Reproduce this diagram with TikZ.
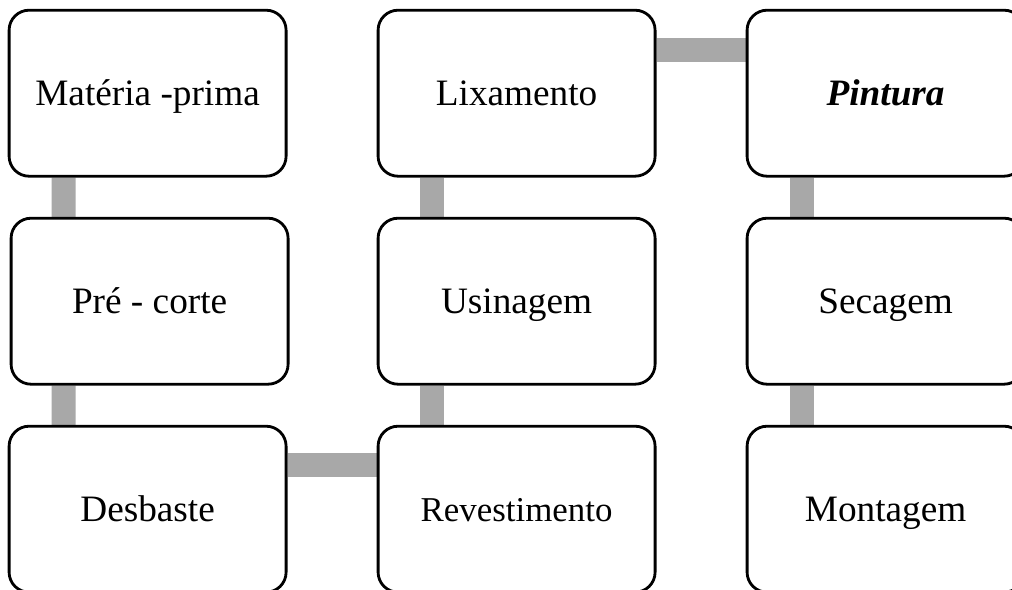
\documentclass[tikz,border=0pt]{standalone}
\usepackage{fontspec}
\setmainfont{Liberation Serif}
\usepackage{tikz}
\usetikzlibrary{shapes,arrows,calc,backgrounds}
\definecolor{linkgray}{RGB}{168,168,168}
\tikzstyle{box} = [draw, line width=2pt, rectangle, rounded corners=0.5cm, fill=white, minimum width=6.925cm, minimum height=4.15cm, text height=0.6cm, text depth=0cm, text centered, font=\fontsize{26.5}{31}\selectfont]
\tikzstyle{link} = [draw=linkgray, line width=0.6cm]

\begin{document}
\begin{tikzpicture}[node distance = 5.2cm, auto]
        \useasboundingbox (0,0) rectangle (25.3,-14.75);
        \clip (0,0) rectangle (25.3,-14.75);
        \node[box] (matprima) at (3.69,-2.33) {Matéria -prima};
        \node[box, below of=matprima, xshift=0.05cm] (precorte) {Pré - corte};
        \node[box, below of=precorte, xshift=-0.05cm] (desbaste) {Desbaste};
        \node[box, right of=desbaste, node distance = 9.225cm, font=\fontsize{24.8}{29}\selectfont] (revest) {Revestimento};
        \node[box, above of=revest] (usinagem) {Usinagem};
        \node[box, above of=usinagem] (lixamento) {Lixamento};
        \node[box, right of=lixamento, node distance = 9.225cm] (pintura) {\textbf{\textit{Pintura}}};
        \node[box, below of=pintura] (secagem) {Secagem};
        \node[box, below of=secagem] (montagem) {Montagem};
        \begin{pgfonlayer}{background}
        \path[link] ([xshift=1.4cm]matprima.south west) -- ([xshift=1.35cm]precorte.north west);
        \path[link] ([xshift=1.35cm]precorte.south west) -- ([xshift=1.4cm]desbaste.north west);
        \path[link] ([yshift=-1cm]desbaste.north east) -- ([yshift=-1cm]revest.north west);
        \path[link] ([xshift=1.375cm]revest.north west) -- ([xshift=1.375cm]usinagem.south west);
        \path[link] ([xshift=1.375cm]usinagem.north west) -- ([xshift=1.375cm]lixamento.south west);
        \path[link] ([yshift=-1.025cm]lixamento.north east) -- ([yshift=-1.025cm]pintura.north west);
        \path[link] ([xshift=1.4cm]pintura.south west) -- ([xshift=1.4cm]secagem.north west);
        \path[link] ([xshift=1.4cm]secagem.south west) -- ([xshift=1.4cm]montagem.north west);
        \end{pgfonlayer}
    \end{tikzpicture}
\end{document}
